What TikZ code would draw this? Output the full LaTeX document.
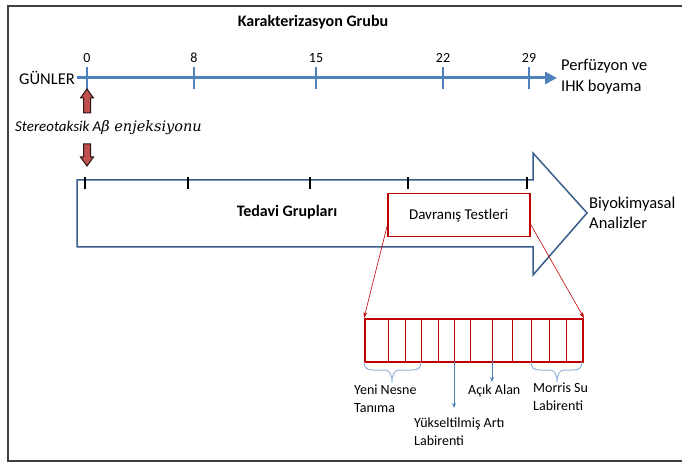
\documentclass[tikz,border=0pt]{standalone}
\usepackage{fontspec}
\setmainfont{Carlito}
\newfontfamily\injserif{DejaVu Serif}
\usetikzlibrary{arrows.meta,positioning,calc}
\definecolor{tlBlue}{RGB}{79,129,189}
\definecolor{blkBlue}{RGB}{56,93,138}
\definecolor{brBlue}{RGB}{149,179,215}
\definecolor{injRed}{RGB}{192,80,77}
\definecolor{injDark}{RGB}{40,20,20}
\definecolor{testRed}{RGB}{192,0,0}
\definecolor{frameGray}{RGB}{64,64,64}

\tikzset{
  lbl/.style={font=\fontsize{16.5}{21}\selectfont, align=left, inner sep=0pt},
  smalllbl/.style={font=\fontsize{14}{18}\selectfont, align=left, inner sep=0pt},
  injarrow/.style={draw=injDark, fill=injRed, line width=1pt, line join=miter},
  testbox/.style={draw=testRed, inner sep=0pt, anchor=north west},
  zoomline/.style={testRed, line width=0.6pt, -{Stealth[length=6pt,width=4pt]}},
  testbrace/.style={brBlue, line width=1pt},
  testpoint/.style={tlBlue, line width=0.8pt, -{Stealth[length=5pt,width=4pt]}},
}

% curly brace below the bar: left x, tip x, right x
\newcommand{\bracebelow}[3]{%
  \draw[testbrace] (#1,362) .. controls (#1,368) and (#1+3,370) .. (#1+9,370)
    -- (#2-7,370) .. controls (#2-3,370) and (#2,374) .. (#2,382)
    .. controls (#2,374) and (#2+3,370) .. (#2+7,370)
    -- (#3-9,370) .. controls (#3-3,370) and (#3,368) .. (#3,362);
}

\begin{document}
\begin{tikzpicture}[x=1pt,y=-1pt]
\useasboundingbox (0,0) rectangle (682,462);

% frame
\draw[frameGray, line width=1.5pt] (700,6) -- (8,6) -- (8,461) -- (700,461);

% =========================
% Karakterizasyon timeline
% =========================
\node[font=\fontsize{16}{19}\selectfont\bfseries] (kar) at (313,22) {Karakterizasyon Grubu};

\coordinate (tlStart) at (77,78);
\coordinate (tlEnd) at (557,78);
\draw[tlBlue, line width=3pt, -{Triangle[length=12pt,width=12pt]}] (tlStart) -- (tlEnd);

\foreach \xx/\dd in {87/0,194/8,316/15,443/22,529/29}{
    \draw[tlBlue, line width=1.5pt] (\xx,67) -- (\xx,89);
    \node[smalllbl] (day\dd) at (\xx,58) {\dd};
}

\node[lbl, anchor=east] (gun) at (75,78) {GÜNLER};
\node[lbl, anchor=west] (perf) at (561,77) {Perfüzyon ve\\IHK boyama};

% injection (block arrows up and down)
\draw[injarrow] (87,89) -- (93.5,98) -- (90.5,98) -- (90.5,113) -- (83.5,113)
    -- (83.5,98) -- (80.5,98) -- cycle;
\node[anchor=west, inner sep=0pt, font=\fontsize{15}{18}\selectfont\itshape] (inj) at (15,128)
    {Stereotaksik A{\injserif\fontsize{14.5}{18}\selectfont β enjeksiyonu}};
\draw[injarrow] (87,166) -- (93.5,157) -- (90.5,157) -- (90.5,144) -- (83.5,144)
    -- (83.5,157) -- (80.5,157) -- cycle;

% =========================
% Tedavi block arrow
% =========================
\draw[blkBlue, line width=1.5pt] (77,180) -- (533,180) -- (533,153) -- (587,213)
    -- (533,275) -- (533,247) -- (77,247) -- cycle;
\foreach \xx in {85,188,310,408,527}
    \draw[black, line width=1.3pt] (\xx,177) -- (\xx,189);

\node[font=\fontsize{16}{19}\selectfont\bfseries] (ted) at (287,212) {Tedavi Grupları};
\node[lbl, anchor=west, font=\fontsize{16.5}{20}\selectfont] (bio) at (589,213) {Biyokimyasal\\Analizler};

\node[testbox, line width=1.5pt, minimum width=142pt, minimum height=43pt,
      font=\fontsize{15}{18}\selectfont] (dt) at (387,193) {Davranış Testleri};

% =========================
% test days bar
% =========================
\node[testbox, line width=2pt, minimum width=218pt, minimum height=43pt] (bar) at (364,318) {};
\foreach \xx in {388,405,421,438,454,470,492,512,531,549,566}
    \draw[testRed, line width=0.7pt] (\xx,318) -- (\xx,361);

\draw[zoomline] ($(dt.west)!0.5!(dt.south west)$) -- (bar.north west);
\draw[zoomline] ($(dt.east)!0.4!(dt.south east)$) -- (bar.north east);

\bracebelow{364}{392}{421}
\bracebelow{531}{557}{582}

\coordinate (artiTop) at (454,361);
\coordinate (artiTip) at (454,408);
\coordinate (alanTop) at (492,361);
\coordinate (alanTip) at (492,382);
\draw[testpoint] (artiTop) -- (artiTip);
\draw[testpoint] (alanTop) -- (alanTip);

\node[smalllbl, anchor=west] (nesne) at (354,399) {Yeni Nesne\\Tanıma};
\node[smalllbl, anchor=west] (arti) at (414,432) {Yükseltilmiş Artı\\Labirenti};
\node[smalllbl, anchor=west] (alan) at (468,391) {Açık Alan};
\node[smalllbl, anchor=west] (morris) at (533,397) {Morris Su\\Labirenti};

\end{tikzpicture}
\end{document}
